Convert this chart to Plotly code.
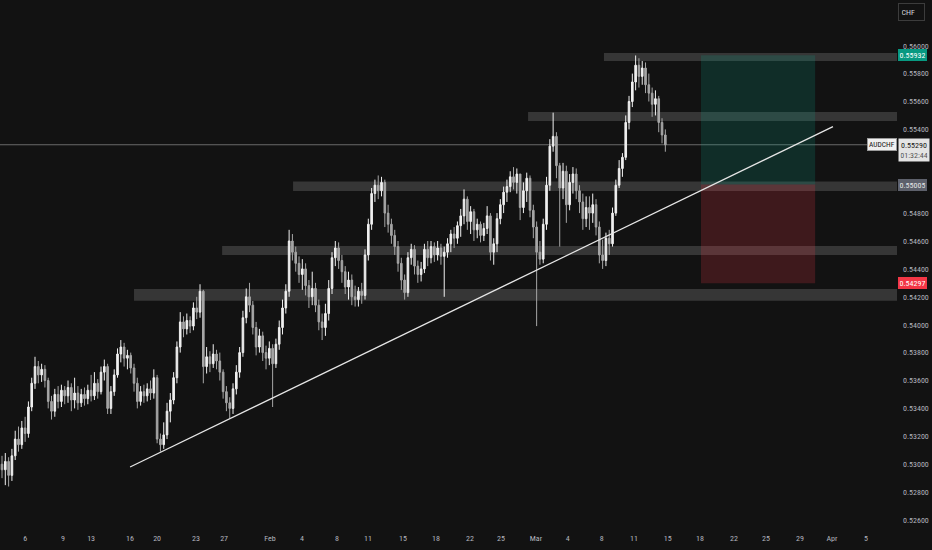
import plotly.graph_objects as go

# ---------------- data (AUDCHF, 4h-ish candles) ----------------
first_open = 0.5300
closes = [
    0.5296, 0.5302, 0.5292, 0.5306, 0.5318, 0.5314, 0.5326, 0.5322, 0.5341, 0.5358,
    0.5370, 0.5364, 0.5368, 0.5360, 0.5345, 0.5338, 0.5350, 0.5345, 0.5353, 0.5349,
    0.5355, 0.5346, 0.5351, 0.5344, 0.5350, 0.5347, 0.5353, 0.5349, 0.5358, 0.5352,
    0.5366, 0.5370, 0.5340, 0.5352, 0.5364, 0.5379, 0.5384, 0.5376, 0.5378, 0.5369,
    0.5358, 0.5345, 0.5352, 0.5349, 0.5354, 0.5351, 0.5362, 0.5318, 0.5314, 0.5321,
    0.5338, 0.5346, 0.5362, 0.5384, 0.5402, 0.5397, 0.5403, 0.5399, 0.5412, 0.5409,
    0.5424, 0.5370, 0.5377, 0.5372, 0.5379, 0.5374, 0.5366, 0.5352, 0.5344, 0.5340,
    0.5354, 0.5366, 0.5380, 0.5405, 0.5420, 0.5414, 0.5398, 0.5384, 0.5392, 0.5380,
    0.5376, 0.5383, 0.5372, 0.5386, 0.5398, 0.5412, 0.5424, 0.5460, 0.5452, 0.5444,
    0.5436, 0.5440, 0.5428, 0.5420, 0.5426, 0.5414, 0.5402, 0.5398, 0.5408, 0.5426,
    0.5448, 0.5455, 0.5446, 0.5438, 0.5427, 0.5432, 0.5420, 0.5418, 0.5424, 0.5421,
    0.5450, 0.5472, 0.5494, 0.5500, 0.5496, 0.5502, 0.5480, 0.5472, 0.5464, 0.5456,
    0.5444, 0.5432, 0.5423, 0.5448, 0.5454, 0.5442, 0.5436, 0.5440, 0.5454, 0.5448,
    0.5456, 0.5450, 0.5455, 0.5449, 0.5452, 0.5458, 0.5465, 0.5462, 0.5471, 0.5478,
    0.5490, 0.5474, 0.5481, 0.5468, 0.5472, 0.5464, 0.5469, 0.5478, 0.5452, 0.5458,
    0.5476, 0.5486, 0.5495, 0.5499, 0.5506, 0.5502, 0.5508, 0.5484, 0.5496, 0.5505,
    0.5482, 0.5470, 0.5452, 0.5447, 0.5472, 0.5500, 0.5528, 0.5535, 0.5514, 0.5498,
    0.5510, 0.5486, 0.5502, 0.5508, 0.5496, 0.5488, 0.5476, 0.5484, 0.5480, 0.5486,
    0.5470, 0.5450, 0.5446, 0.5462, 0.5458, 0.5480, 0.5500, 0.5512, 0.5520, 0.5545,
    0.5560, 0.5574, 0.5586, 0.5578, 0.5584, 0.5572, 0.5566, 0.5558, 0.5562, 0.5545,
    0.5536, 0.55290,
]
highs = [
    0.5306, 0.5308, 0.5305, 0.5311, 0.5324, 0.5327, 0.5331, 0.5334, 0.5345, 0.5362,
    0.5377, 0.5374, 0.5372, 0.5371, 0.5362, 0.5349, 0.5354, 0.5356, 0.5357, 0.5356,
    0.5360, 0.5358, 0.5362, 0.5356, 0.5354, 0.5355, 0.5357, 0.5364, 0.5366, 0.5361,
    0.5370, 0.5375, 0.5372, 0.5356, 0.5368, 0.5383, 0.5389, 0.5387, 0.5382, 0.5380,
    0.5372, 0.5362, 0.5356, 0.5357, 0.5358, 0.5360, 0.5368, 0.5364, 0.5322, 0.5330,
    0.5344, 0.5351, 0.5366, 0.5388, 0.5409, 0.5406, 0.5408, 0.5406, 0.5416, 0.5420,
    0.5429, 0.5425, 0.5384, 0.5381, 0.5386, 0.5382, 0.5380, 0.5368, 0.5356, 0.5348,
    0.5358, 0.5371, 0.5384, 0.5410, 0.5426, 0.5430, 0.5417, 0.5402, 0.5397, 0.5395,
    0.5385, 0.5388, 0.5386, 0.5390, 0.5403, 0.5418, 0.5429, 0.5468, 0.5465, 0.5456,
    0.5449, 0.5447, 0.5444, 0.5432, 0.5438, 0.5430, 0.5418, 0.5408, 0.5415, 0.5432,
    0.5452, 0.5460, 0.5459, 0.5450, 0.5442, 0.5438, 0.5436, 0.5428, 0.5427, 0.5430,
    0.5454, 0.5476, 0.5498, 0.5504, 0.5507, 0.5506, 0.5504, 0.5486, 0.5476, 0.5468,
    0.5460, 0.5448, 0.5436, 0.5452, 0.5458, 0.5457, 0.5446, 0.5445, 0.5458, 0.5460,
    0.5460, 0.5459, 0.5460, 0.5458, 0.5456, 0.5462, 0.5468, 0.5470, 0.5474, 0.5483,
    0.5497, 0.5492, 0.5485, 0.5483, 0.5476, 0.5474, 0.5473, 0.5485, 0.5480, 0.5462,
    0.5480, 0.5490, 0.5499, 0.5504, 0.5510, 0.5513, 0.5512, 0.5506, 0.5502, 0.5509,
    0.5507, 0.5486, 0.5474, 0.5460, 0.5476, 0.5506, 0.5533, 0.5552, 0.5538, 0.5516,
    0.5516, 0.5514, 0.5508, 0.5513, 0.5512, 0.5500, 0.5494, 0.5492, 0.5492, 0.5494,
    0.5490, 0.5474, 0.5461, 0.5466, 0.5468, 0.5484, 0.5504, 0.5518, 0.5523, 0.5550,
    0.5564, 0.5580, 0.5593, 0.5591, 0.5589, 0.5588, 0.5580, 0.5570, 0.5568, 0.5564,
    0.5548, 0.5540,
]
lows = [
    0.5290, 0.5285, 0.5284, 0.5288, 0.5303, 0.5309, 0.5311, 0.5316, 0.5319, 0.5338,
    0.5354, 0.5358, 0.5359, 0.5355, 0.5340, 0.5332, 0.5334, 0.5340, 0.5341, 0.5343,
    0.5344, 0.5338, 0.5340, 0.5339, 0.5341, 0.5342, 0.5343, 0.5345, 0.5346, 0.5347,
    0.5350, 0.5360, 0.5336, 0.5336, 0.5349, 0.5362, 0.5373, 0.5370, 0.5368, 0.5365,
    0.5352, 0.5340, 0.5342, 0.5344, 0.5345, 0.5346, 0.5347, 0.5315, 0.5309, 0.5311,
    0.5318, 0.5330, 0.5343, 0.5358, 0.5380, 0.5391, 0.5393, 0.5394, 0.5396, 0.5404,
    0.5405, 0.5358, 0.5365, 0.5366, 0.5369, 0.5368, 0.5360, 0.5347, 0.5338, 0.5333,
    0.5336, 0.5350, 0.5362, 0.5377, 0.5401, 0.5409, 0.5393, 0.5378, 0.5380, 0.5374,
    0.5368, 0.5371, 0.5341, 0.5369, 0.5382, 0.5393, 0.5408, 0.5420, 0.5446, 0.5438,
    0.5430, 0.5425, 0.5421, 0.5412, 0.5414, 0.5409, 0.5396, 0.5389, 0.5392, 0.5403,
    0.5422, 0.5442, 0.5440, 0.5430, 0.5422, 0.5418, 0.5414, 0.5413, 0.5413, 0.5415,
    0.5418, 0.5446, 0.5468, 0.5488, 0.5490, 0.5492, 0.5470, 0.5466, 0.5458, 0.5450,
    0.5438, 0.5425, 0.5418, 0.5420, 0.5443, 0.5436, 0.5430, 0.5431, 0.5437, 0.5442,
    0.5444, 0.5445, 0.5446, 0.5443, 0.5420, 0.5448, 0.5452, 0.5455, 0.5458, 0.5463,
    0.5472, 0.5468, 0.5465, 0.5460, 0.5462, 0.5459, 0.5460, 0.5465, 0.5446, 0.5443,
    0.5452, 0.5472, 0.5480, 0.5488, 0.5495, 0.5497, 0.5494, 0.5475, 0.5480, 0.5488,
    0.5477, 0.5462, 0.5399, 0.5443, 0.5444, 0.5468, 0.5496, 0.5524, 0.5505, 0.5456,
    0.5490, 0.5473, 0.5482, 0.5494, 0.5490, 0.5480, 0.5468, 0.5470, 0.5468, 0.5473,
    0.5464, 0.5444, 0.5440, 0.5442, 0.5450, 0.5456, 0.5478, 0.5498, 0.5506, 0.5518,
    0.5540, 0.5556, 0.5568, 0.5570, 0.5572, 0.5566, 0.5560, 0.5549, 0.5550, 0.5538,
    0.5530, 0.5524,
]
opens = [first_open] + closes[:-1]
bars = list(range(len(closes)))

# time-axis labels (bar index where each date label sits)
tick_bars = [7.0, 18.5, 27.0, 38.8, 47.0, 58.8, 67.3, 81.2, 90.9, 101.5, 110.9, 121.5,
             131.5, 141.8, 151.2, 161.8, 171.4, 181.7, 191.5, 201.7, 211.5, 221.8,
             231.5, 241.8, 251.5, 261.8]
tick_text = ["6", "9", "13", "16", "20", "23", "27", "Feb", "4", "8", "11", "15", "18",
             "22", "25", "Mar", "4", "8", "11", "15", "18", "22", "25", "29", "Apr", "5"]
# price-scale labels that are visible (0.552 and 0.550 hidden behind the live labels)
price_ticks = [0.526, 0.528, 0.530, 0.532, 0.534, 0.536, 0.538, 0.540, 0.542, 0.544,
               0.546, 0.548, 0.554, 0.556, 0.558, 0.560]

# horizontal supply / demand zones
zone_start = [182.4, 159.4, 88.2, 66.7, 40.0]
zone_hi = [0.55948, 0.55525, 0.55026, 0.54564, 0.54256]
zone_lo = [0.55890, 0.55460, 0.54958, 0.54500, 0.54172]

# trend line anchors
trend_bars = [38.8, 251.8]
trend_prices = [0.5298, 0.5542]

# long position tool
pos_bars = [211.8, 246.4]
entry, target, stop = 0.55005, 0.55932, 0.54297
last_price = closes[-1]

# ---------------- figure ----------------
BG = "#121212"
TXT = "#b2b5be"
FONT = "Liberation Sans Narrow, Roboto Condensed, Arial Narrow, Liberation Sans, sans-serif"

fig = go.Figure()

shapes = []
for xs, lo, hi in zip(zone_start, zone_lo, zone_hi):
    shapes.append(dict(type="rect", xref="x", yref="y", x0=xs, x1=272, y0=lo, y1=hi,
                       fillcolor="rgba(120,120,120,0.36)", line=dict(width=0), layer="below"))
shapes.append(dict(type="rect", xref="x", yref="y", x0=pos_bars[0], x1=pos_bars[1],
                   y0=entry, y1=target, fillcolor="rgba(8,153,129,0.20)",
                   line=dict(width=0), layer="below"))
shapes.append(dict(type="rect", xref="x", yref="y", x0=pos_bars[0], x1=pos_bars[1],
                   y0=stop, y1=entry, fillcolor="rgba(242,54,69,0.20)",
                   line=dict(width=0), layer="below"))
shapes.append(dict(type="line", xref="paper", yref="y", x0=0, x1=1, y0=last_price,
                   y1=last_price, line=dict(color="#6a6a6a", width=1), layer="below"))

fig.add_trace(go.Candlestick(
    x=bars, open=opens, high=highs, low=lows, close=closes,
    increasing=dict(line=dict(color="#f0f0f0", width=1), fillcolor="#f0f0f0"),
    decreasing=dict(line=dict(color="#a6a6a6", width=1), fillcolor="#a6a6a6"),
    whiskerwidth=0, showlegend=False, hoverinfo="skip",
))

fig.add_trace(go.Scatter(x=trend_bars, y=trend_prices, mode="lines",
                         line=dict(color="#e6e6e6", width=1.2), showlegend=False,
                         hoverinfo="skip"))

annotations = []


def axis_label(y, text, bg, fg):
    annotations.append(dict(x=1, xref="paper", y=y, yref="y", xanchor="left",
                            yanchor="middle", xshift=1, text=text, showarrow=False,
                            bgcolor=bg, width=26, align="center",
                            font=dict(family=FONT, size=8, color=fg),
                            borderpad=1.5, borderwidth=0))


axis_label(target, "0.55932", "#089981", "#ffffff")
axis_label(entry, "0.55005", "#5d606b", "#e6e6e6")
axis_label(stop, "0.54297", "#f23645", "#ffffff")

annotations.append(dict(x=1, xref="paper", y=last_price, yref="y", xanchor="left",
                        yanchor="top", xshift=1, yshift=7, width=27,
                        text="0.55290<br><span style='color:#555'>01:32:44</span>",
                        showarrow=False, bgcolor="#e4e4e4", align="center",
                        font=dict(family=FONT, size=8, color="#131313"), borderpad=1.5))
annotations.append(dict(x=1, xref="paper", y=last_price, yref="y", xanchor="right",
                        yanchor="middle", xshift=0, text="AUDCHF", showarrow=False,
                        bgcolor="#f0f0f0", bordercolor="#9a9a9a", borderwidth=1,
                        font=dict(family=FONT, size=7.5, color="#131313"), borderpad=1))
annotations.append(dict(x=1, xref="paper", y=1, yref="paper", xanchor="left",
                        yanchor="top", xshift=1, yshift=-3, text="CHF", showarrow=False,
                        width=20, height=11, align="left",
                        bordercolor="#3c3c3c", borderwidth=1, borderpad=2.5,
                        bgcolor=BG, font=dict(family=FONT, size=8, color="#d1d4dc")))

fig.update_layout(
    width=932, height=550,
    margin=dict(l=0, r=35, t=0, b=24),
    paper_bgcolor=BG, plot_bgcolor=BG,
    shapes=shapes, annotations=annotations,
    xaxis=dict(range=[-0.61, 271.2], tickvals=tick_bars, ticktext=tick_text,
               showgrid=False, zeroline=False, showline=False, ticks="",
               rangeslider=dict(visible=False), fixedrange=True,
               tickfont=dict(family=FONT, size=8, color=TXT), ticklabelstandoff=6),
    yaxis=dict(range=[0.52557, 0.563276], side="right", tickvals=price_ticks,
               tickformat=".5f", showgrid=False, zeroline=False, showline=False,
               ticks="", tickfont=dict(family=FONT, size=8, color=TXT),
               ticklabelstandoff=5, fixedrange=True),
    font=dict(family=FONT),
)

fig.write_html("out.html", config={"displayModeBar": False, "staticPlot": True},
               post_script="document.body.style.margin='0';"
                           "document.body.style.background='#121212';"
                           "document.documentElement.style.overflow='hidden';")
